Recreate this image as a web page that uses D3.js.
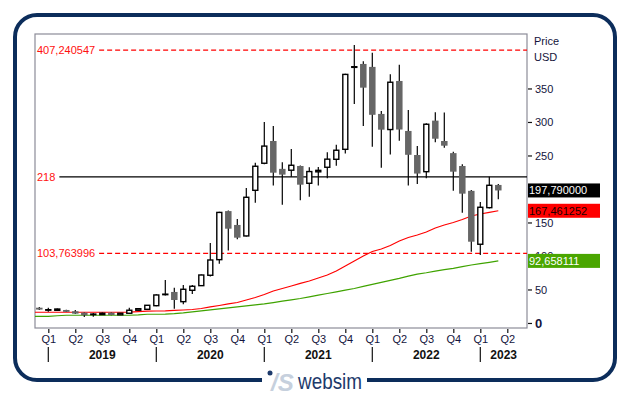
<!DOCTYPE html>
<html>
<head>
<meta charset="utf-8">
<script src="https://cdnjs.cloudflare.com/ajax/libs/d3/7.8.5/d3.min.js"></script>
<style>
  body { margin: 0; background: #fff; }
  text { font-family: "Liberation Sans", Arial, sans-serif; }
</style>
</head>
<body>
<div id="chart"></div>
<script>
// Monthly candles, Dec 2018 .. Mar 2023
const months = d3.timeMonth.range(new Date(2018, 11, 1), new Date(2023, 3, 1));
const open  = [22.8, 19.4, 18.9, 19.4, 17.5, 15.4, 12.9, 12.5, 15.4, 12.2, 14.5, 19.0, 20.4, 25.8, 42.6, 46.3, 31.8, 48.8, 55.7, 71.2, 94.5, 167, 146.3, 129.9, 198, 238.4, 271.6, 230, 228, 234.3, 208.5, 225.6, 232.4, 244.3, 259.2, 381.5, 386.6, 382.2, 312, 288.7, 361.2, 286.6, 250.7, 225.8, 302, 271.6, 253.5, 234.3, 197.2, 117.5, 172.1, 206];
const high  = [23.8, 22.8, 21.5, 19.9, 19.4, 15.6, 14.9, 15.5, 15.6, 15.0, 22.8, 22.0, 27.0, 43.0, 64.0, 52.7, 56.7, 56.7, 72.5, 119.4, 166, 168, 155, 201.5, 239, 300, 294, 240, 259.7, 235, 232.6, 232.8, 254.8, 266, 372, 415, 390.6, 403.4, 316.4, 371.3, 385.5, 318, 264, 298, 314.5, 314, 255.7, 237, 198.5, 180.5, 218.4, 207.5];
const low   = [19.5, 16.9, 18.0, 16.2, 13.5, 9.0, 9.4, 12.0, 11.5, 11.8, 13.5, 18.5, 20.0, 25.0, 41.0, 21.3, 27.9, 43.3, 55.0, 69.5, 88.5, 108, 125, 129, 179.6, 237, 205, 176.5, 218.4, 183, 188.5, 205, 216, 234.8, 253, 327, 294, 263, 231.8, 251.5, 272, 205, 207.5, 216, 269.7, 261.6, 197.5, 164.6, 106.2, 101.5, 171, 184.6];
const close = [20.0, 19.8, 20.8, 16.6, 13.9, 11.5, 13.3, 14.5, 11.9, 14.5, 19.0, 21.3, 26.4, 41.8, 43.0, 34.3, 50.3, 54.8, 71.6, 94.0, 165, 140.7, 127.3, 187.6, 233.9, 264, 224.3, 221.4, 235.4, 206.4, 226, 227.8, 244.5, 257.8, 371, 382.5, 351.2, 310.7, 288.5, 359.3, 288.7, 251, 223, 296.6, 275, 264.6, 225.8, 193, 121.3, 172.7, 205.5, 197.79];

// Moving averages, Nov 2018 .. Mar 2023
const maMonths = d3.timeMonth.range(new Date(2018, 10, 1), new Date(2023, 3, 1));
const redMA = [16, 16, 16, 16, 16, 16, 16, 16, 16, 16, 16, 16.2, 16.8, 17.6, 17.9, 18.0, 18.7, 19.4, 20.1, 21.6, 23.9, 26.1, 28.4, 30.6, 34.3, 38, 42.5, 47.8, 51.5, 55.2, 59, 62.7, 67.2, 71.6, 77.6, 85, 92.5, 100, 106.7, 110.4, 115.7, 122.4, 127.6, 131.3, 135.8, 141.8, 146.3, 150, 154.5, 159.7, 162.7, 165, 167.461252];
const greenMA = [10, 10, 10, 10.8, 11.5, 11.5, 11.5, 11.5, 11.5, 11.5, 11.5, 11.5, 12, 13, 13, 13.3, 14, 15, 16.5, 18, 19.5, 21, 22.5, 24, 25.5, 27, 28.5, 30.5, 32.5, 34.5, 36.5, 39, 41.5, 44, 46.5, 49, 51.5, 54.5, 57.5, 60.5, 63.5, 66.5, 70, 73, 75, 77.5, 79.5, 81.5, 84, 86.5, 88.5, 90.5, 92.658111];

const levelValues = [407.240547, 218, 103.763996];
const levelLabels = ["407,240547", "218", "103,763996"];
const lastValues = [197.79, 167.461252, 92.658111];
const lastLabels = ["197,790000", "167,461252", "92,658111"];
const yTicks = [0, 50, 100, 150, 200, 250, 300, 350];
const yTickLabels = ["0", "50", "100", "150", "", "250", "300", "350"]; // 200 sits under the last-price box
const years = [2019, 2020, 2021, 2022, 2023];

const W = 629, H = 395;
const plot = { left: 35, top: 34, right: 527, bottom: 328 };
const base = new Date(2019, 0, 1);
const idx = d => d3.timeMonth.count(base, d);

const svg = d3.select("#chart").append("svg")
    .attr("width", W).attr("height", H);

// outer frame with gap for logo
svg.append("rect")
    .attr("x", 15).attr("y", 15).attr("width", 600).attr("height", 365)
    .attr("rx", 22).attr("fill", "none")
    .attr("stroke", "#0c2d5b").attr("stroke-width", 4);
svg.append("rect")
    .attr("x", 262).attr("y", 375).attr("width", 105).attr("height", 10)
    .attr("fill", "#fff");

// scales
const x = d3.scaleLinear().domain([0, 48]).range([48.3, 480.3]);
const y = d3.scaleLinear().domain([-7.5, 431.3]).range([plot.bottom, plot.top]);

svg.append("defs").append("clipPath").attr("id", "clip")
    .append("rect")
    .attr("x", plot.left).attr("y", plot.top)
    .attr("width", plot.right - plot.left).attr("height", plot.bottom - plot.top);

// plot border
svg.append("rect")
    .attr("x", plot.left).attr("y", plot.top)
    .attr("width", plot.right - plot.left).attr("height", plot.bottom - plot.top)
    .attr("fill", "#fff").attr("stroke", "#8c8c98").attr("stroke-width", 1.2);

const g = svg.append("g").attr("clip-path", "url(#clip)");

// level lines with labels
levelValues.forEach((v, i) => {
    const t = svg.append("text")
        .attr("x", 37).attr("y", y(v) + 4)
        .attr("font-size", 11).attr("fill", "#ff1010")
        .text(levelLabels[i]);
    const x0 = 37 + t.node().getComputedTextLength() + 4;
    g.append("line")
        .attr("x1", x0).attr("x2", plot.right)
        .attr("y1", y(v)).attr("y2", y(v))
        .attr("stroke", i === 1 ? "#000" : "#ff0000")
        .attr("stroke-width", 1.3)
        .attr("stroke-dasharray", i === 1 ? null : "5,3");
});

// moving averages
const maLine = arr => d3.line()
    .x(d => x(idx(d)))
    .y((d, i) => y(arr[i]));
g.append("path").datum(maMonths)
    .attr("fill", "none").attr("stroke", "#ff0000").attr("stroke-width", 1.2)
    .attr("d", maLine(redMA));
g.append("path").datum(maMonths)
    .attr("fill", "none").attr("stroke", "#3fa300").attr("stroke-width", 1.2)
    .attr("d", maLine(greenMA));

// candles
const candles = g.selectAll(".candle")
    .data(months.map((m, i) => ({ i: idx(m), o: open[i], h: high[i], l: low[i], c: close[i] })))
    .enter().append("g").attr("class", "candle");

candles.append("line")
    .attr("x1", d => x(d.i)).attr("x2", d => x(d.i))
    .attr("y1", d => y(d.h)).attr("y2", d => y(d.l))
    .attr("stroke", "#000").attr("stroke-width", 1.2);

candles.append("rect")
    .attr("x", d => x(d.i) - (d.c >= d.o ? 2.5 : 3.25))
    .attr("width", d => d.c >= d.o ? 5 : 6.5)
    .attr("y", d => y(Math.max(d.o, d.c)))
    .attr("height", d => Math.max(0.5, y(Math.min(d.o, d.c)) - y(Math.max(d.o, d.c))))
    .attr("fill", d => d.c >= d.o ? "#fff" : "#666")
    .attr("stroke", d => d.c >= d.o ? "#000" : "none")
    .attr("stroke-width", 1.4);

// right axis
const yAxis = svg.append("g")
    .attr("transform", `translate(${plot.right + 1},0)`)
    .call(d3.axisRight(y).tickValues(yTicks).tickSize(4).tickPadding(3)
        .tickFormat((d, i) => yTickLabels[i]));
yAxis.select(".domain").remove();
yAxis.selectAll("line").attr("stroke", "#111").attr("stroke-width", 1.2);
yAxis.selectAll("text")
    .attr("fill", "#14143c")
    .attr("font-weight", d => d === 0 ? "bold" : null)
    .style("font-size", d => d === 0 ? "13px" : "11px");

svg.append("text").attr("x", 534).attr("y", 45)
    .attr("font-size", 11).attr("fill", "#14143c").text("Price");
svg.append("text").attr("x", 534).attr("y", 61)
    .attr("font-size", 11).attr("fill", "#14143c").text("USD");

// last value boxes
const boxFill = ["#000", "#ff0000", "#4aa600"];
const boxText = ["#fff", "#1a0000", "#fff"];
lastValues.forEach((v, i) => {
    svg.append("rect")
        .attr("x", plot.right + 1).attr("y", y(v) - 7)
        .attr("width", 72).attr("height", 14)
        .attr("fill", boxFill[i]);
    svg.append("text")
        .attr("x", plot.right + 2).attr("y", y(v) + 4)
        .attr("font-size", 11).attr("fill", boxText[i])
        .text(lastLabels[i]);
});

// bottom axis: quarters
const qIdx = d3.range(0, 52, 3);
const xAxis = svg.append("g")
    .attr("transform", `translate(0,${plot.bottom + 1})`)
    .call(d3.axisBottom(x).tickValues(qIdx).tickSize(4).tickPadding(2)
        .tickFormat(d => "Q" + ((d % 12) / 3 + 1)));
xAxis.select(".domain").remove();
xAxis.selectAll("line").attr("stroke", "#111").attr("stroke-width", 1.2);
xAxis.selectAll("text").attr("font-size", 11).attr("fill", "#14143c");

// years
years.forEach((yr, k) => {
    const a = Math.max(plot.left, x(k * 12));
    const b = Math.min(plot.right, x(k * 12 + 12));
    svg.append("text")
        .attr("x", (a + b) / 2).attr("y", 359)
        .attr("text-anchor", "middle")
        .attr("font-size", 12).attr("font-weight", "bold").attr("fill", "#111")
        .text(yr);
    svg.append("line")
        .attr("x1", x(k * 12)).attr("x2", x(k * 12))
        .attr("y1", 347).attr("y2", 362)
        .attr("stroke", "#111").attr("stroke-width", 1.2);
});

// logo
svg.append("circle").attr("cx", 270).attr("cy", 373).attr("r", 2.5).attr("fill", "#1d3a6b");
svg.append("text").attr("x", 271).attr("y", 391)
    .attr("font-size", 24).attr("font-style", "italic").attr("font-weight", "bold")
    .attr("fill", "#c6d0dd").text("/S");
svg.append("text").attr("x", 298).attr("y", 389)
    .attr("font-size", 22).attr("fill", "#1d3a6b")
    .attr("textLength", 64).attr("lengthAdjust", "spacingAndGlyphs")
    .text("websim");
</script>
</body>
</html>
